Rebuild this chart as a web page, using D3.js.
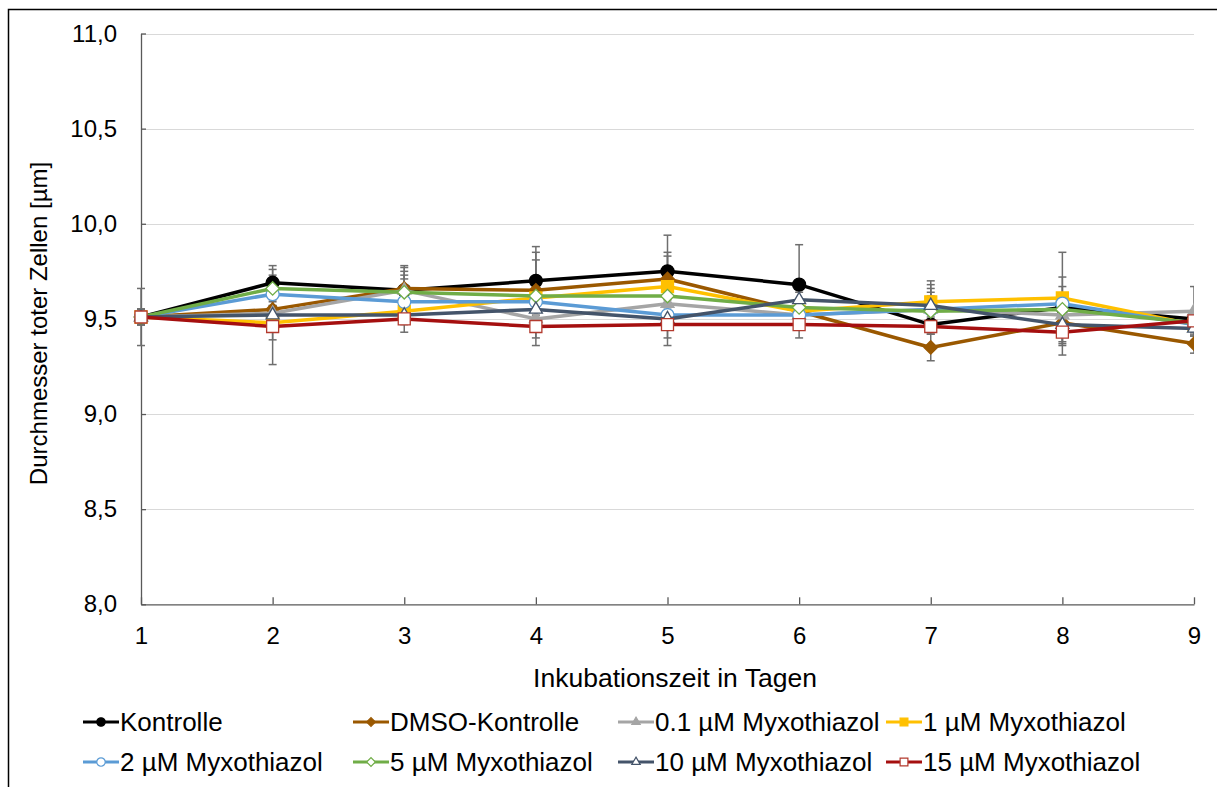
<!DOCTYPE html>
<html>
<head>
<meta charset="utf-8">
<script src="https://cdn.jsdelivr.net/npm/d3@7"></script>
<style>
  html, body { margin: 0; padding: 0; background: #fff; }
  svg { display: block; font-family: "Liberation Sans", Arial, sans-serif; }
</style>
</head>
<body>
<svg id="chart" width="1217" height="787"></svg>
<script>
// Incubation days
const days = [1, 2, 3, 4, 5, 6, 7, 8, 9];

// Mean diameter of dead cells [µm] per treatment
const kontrolle   = [9.51, 9.69, 9.65, 9.70, 9.75, 9.68, 9.47, 9.56, 9.50];
const dmso        = [9.51, 9.55, 9.66, 9.65, 9.71, 9.54, 9.35, 9.48, 9.37];
const myxo01      = [9.51, 9.53, 9.65, 9.50, 9.58, 9.52, 9.55, 9.52, 9.54];
const myxo1       = [9.51, 9.48, 9.54, 9.61, 9.67, 9.54, 9.59, 9.61, 9.47];
const myxo2       = [9.51, 9.63, 9.59, 9.59, 9.52, 9.52, 9.55, 9.58, 9.47];
const myxo5       = [9.51, 9.66, 9.64, 9.62, 9.62, 9.56, 9.54, 9.55, 9.48];
const myxo10      = [9.51, 9.52, 9.52, 9.55, 9.50, 9.60, 9.57, 9.47, 9.45];
const myxo15      = [9.51, 9.46, 9.50, 9.46, 9.47, 9.47, 9.46, 9.43, 9.49];

// Standard deviations (symmetric error bars)
const kontrolleSd = [0.15, 0.09, 0.10, 0.18, 0.19, 0.21, 0.04, 0.04, 0.04];
const dmsoSd      = [0.04, 0.04, 0.12, 0.20, 0.14, 0.04, 0.07, 0.12, 0.05];
const myxo01Sd    = [0.04, 0.04, 0.12, 0.04, 0.04, 0.04, 0.07, 0.04, 0.13];
const myxo1Sd     = [0.04, 0.09, 0.04, 0.04, 0.16, 0.04, 0.11, 0.24, 0.04];
const myxo2Sd     = [0.04, 0.10, 0.12, 0.04, 0.04, 0.04, 0.11, 0.14, 0.04];
const myxo5Sd     = [0.04, 0.10, 0.09, 0.19, 0.04, 0.04, 0.10, 0.12, 0.04];
const myxo10Sd    = [0.04, 0.04, 0.04, 0.15, 0.10, 0.04, 0.11, 0.09, 0.04];
const myxo15Sd    = [0.04, 0.20, 0.07, 0.10, 0.11, 0.07, 0.04, 0.12, 0.04];

const seriesNames = [
  "Kontrolle", "DMSO-Kontrolle", "0.1 µM Myxothiazol", "1 µM Myxothiazol",
  "2 µM Myxothiazol", "5 µM Myxothiazol", "10 µM Myxothiazol", "15 µM Myxothiazol"
];
const seriesValues = [kontrolle, dmso, myxo01, myxo1, myxo2, myxo5, myxo10, myxo15];
const seriesSd = [kontrolleSd, dmsoSd, myxo01Sd, myxo1Sd, myxo2Sd, myxo5Sd, myxo10Sd, myxo15Sd];

const yTicks = [8.0, 8.5, 9.0, 9.5, 10.0, 10.5, 11.0];
const xTicks = days;

// Visual style per series
const styles = [
  { color: "#000000", shape: "circle",   fill: "#000000", stroke: "#000000" },
  { color: "#9A5800", shape: "diamond",  fill: "#9A5800", stroke: "#9A5800" },
  { color: "#A5A5A5", shape: "triangle", fill: "#A5A5A5", stroke: "#A5A5A5" },
  { color: "#FFC000", shape: "square",   fill: "#FFC000", stroke: "#FFC000" },
  { color: "#5B9BD5", shape: "circle",   fill: "#FFFFFF", stroke: "#5B9BD5" },
  { color: "#70AD47", shape: "diamond",  fill: "#FFFFFF", stroke: "#70AD47" },
  { color: "#44546A", shape: "triangle", fill: "#FFFFFF", stroke: "#44546A" },
  { color: "#A50F0F", shape: "square",   fill: "#FFFFFF", stroke: "#B33A2E" }
];

const series = seriesNames.map((name, i) => ({
  name,
  style: styles[i],
  points: days.map((d, j) => ({ day: d, value: seriesValues[i][j], sd: seriesSd[i][j] }))
}));

const svg = d3.select("#chart");

// Outer chart frame
svg.append("rect")
  .attr("x", 8.5).attr("y", 9.5)
  .attr("width", 1400).attr("height", 1000)
  .attr("fill", "none").attr("stroke", "#000").attr("stroke-width", 1.5);

const plot = { left: 141, right: 1194, top: 33.5, bottom: 604.3 };

const x = d3.scaleLinear().domain([1, 9]).range([plot.left, plot.right]);
const y = d3.scaleLinear().domain([8, 11]).range([plot.bottom, plot.top]);

const deLocale = d3.formatLocale({ decimal: ",", thousands: ".", grouping: [3], currency: ["", " €"] });
const fmtY = deLocale.format(".1f");

// Horizontal gridlines
svg.append("g")
  .selectAll("line")
  .data(yTicks.filter(t => t > 8))
  .join("line")
  .attr("x1", plot.left).attr("x2", plot.right)
  .attr("y1", d => Math.round(y(d)) + 0.5).attr("y2", d => Math.round(y(d)) + 0.5)
  .attr("stroke", "#D9D9D9").attr("stroke-width", 1);

// Y axis
const yAxis = svg.append("g")
  .attr("transform", `translate(${plot.left},0)`)
  .call(d3.axisLeft(y).tickValues(yTicks).tickFormat(fmtY)
    .tickSizeInner(-5).tickSizeOuter(0).tickPadding(24));
yAxis.select(".domain").attr("stroke", "#595959").attr("stroke-width", 1.3);
yAxis.selectAll(".tick line").attr("stroke", "#595959").attr("stroke-width", 1.3);
yAxis.selectAll("text").attr("font-size", 24).attr("fill", "#000")
  .attr("font-family", "Liberation Sans, Arial, sans-serif");

// X axis
const xAxis = svg.append("g")
  .attr("transform", `translate(0,${plot.bottom})`)
  .call(d3.axisBottom(x).tickValues(xTicks).tickFormat(d3.format("d"))
    .tickSizeInner(-7).tickSizeOuter(0).tickPadding(23));
xAxis.select(".domain").attr("stroke", "#595959").attr("stroke-width", 1.3);
xAxis.selectAll(".tick line").attr("stroke", "#595959").attr("stroke-width", 1.3);
xAxis.selectAll("text").attr("font-size", 24).attr("fill", "#000")
  .attr("font-family", "Liberation Sans, Arial, sans-serif");

// Axis titles
svg.append("text")
  .attr("x", 675).attr("y", 687)
  .attr("text-anchor", "middle").attr("font-size", 26.5).attr("fill", "#000")
  .text("Inkubationszeit in Tagen");

svg.append("text")
  .attr("transform", "translate(47,323.5) rotate(-90)")
  .attr("text-anchor", "middle").attr("font-size", 24).attr("fill", "#000")
  .text("Durchmesser toter Zellen [µm]");

// Marker shapes
function markerPath(shape, scale) {
  const s = scale || 1;
  switch (shape) {
    case "circle":   return d3.symbol(d3.symbolCircle, Math.PI * 6.5 * 6.5 * s * s)();
    case "square":   return d3.symbol(d3.symbolSquare, 12 * 12 * s * s)();
    case "diamond":  return d3.symbol(d3.symbolSquare, 9.5 * 9.5 * s * s)();
    case "triangle": return d3.symbol(d3.symbolTriangle, 13 * 13 * Math.sqrt(3) / 4 * s * s)();
  }
}

// Clip the data layer at the right plot edge
svg.append("defs").append("clipPath").attr("id", "plotClip")
  .append("rect").attr("x", 100).attr("y", 0).attr("width", plot.right - 100).attr("height", 787);

const data = svg.append("g").attr("clip-path", "url(#plotClip)");

// Error bars
const capHalf = 4;
const eb = data.append("g").attr("stroke", "#6E6E6E").attr("stroke-width", 1.5).attr("fill", "none");
series.forEach(s => {
  s.points.forEach(p => {
    const cx = x(p.day), y1 = y(p.value + p.sd), y2 = y(p.value - p.sd);
    eb.append("line").attr("x1", cx).attr("x2", cx).attr("y1", y1).attr("y2", y2);
    eb.append("line").attr("x1", cx - capHalf).attr("x2", cx + capHalf).attr("y1", y1).attr("y2", y1);
    eb.append("line").attr("x1", cx - capHalf).attr("x2", cx + capHalf).attr("y1", y2).attr("y2", y2);
  });
});

const line = d3.line().x(d => x(d.day)).y(d => y(d.value));

// Lines and markers, one series after the other
series.forEach(s => {
  const g = data.append("g");
  g.append("path")
    .datum(s.points)
    .attr("d", line)
    .attr("fill", "none")
    .attr("stroke", s.style.color)
    .attr("stroke-width", 3.5)
    .attr("stroke-linejoin", "round");
  g.selectAll("path.marker")
    .data(s.points)
    .join("path")
    .attr("class", "marker")
    .attr("d", markerPath(s.style.shape))
    .attr("transform", d => `translate(${x(d.day)},${y(d.value)})` + (s.style.shape === "diamond" ? " rotate(45)" : ""))
    .attr("fill", s.style.fill)
    .attr("stroke", s.style.stroke)
    .attr("stroke-width", 1.3);
});

// Legend
const legendCols = [83, 353, 618, 886];
const legendRows = [722, 762];
const legend = svg.append("g");
series.forEach((s, i) => {
  const lx = legendCols[i % 4];
  const ly = legendRows[Math.floor(i / 4)];
  const item = legend.append("g").attr("transform", `translate(${lx},${ly})`);
  item.append("line")
    .attr("x1", 0).attr("x2", 36).attr("y1", 0).attr("y2", 0)
    .attr("stroke", s.style.color).attr("stroke-width", 3);
  item.append("path")
    .attr("d", markerPath(s.style.shape, 0.65))
    .attr("transform", "translate(18,0)" + (s.style.shape === "diamond" ? " rotate(45)" : ""))
    .attr("fill", s.style.fill)
    .attr("stroke", s.style.stroke)
    .attr("stroke-width", 1.2);
  item.append("text")
    .attr("x", 37).attr("y", 0).attr("dy", "0.35em")
    .attr("font-size", 26).attr("fill", "#000")
    .text(s.name);
});
</script>
</body>
</html>
